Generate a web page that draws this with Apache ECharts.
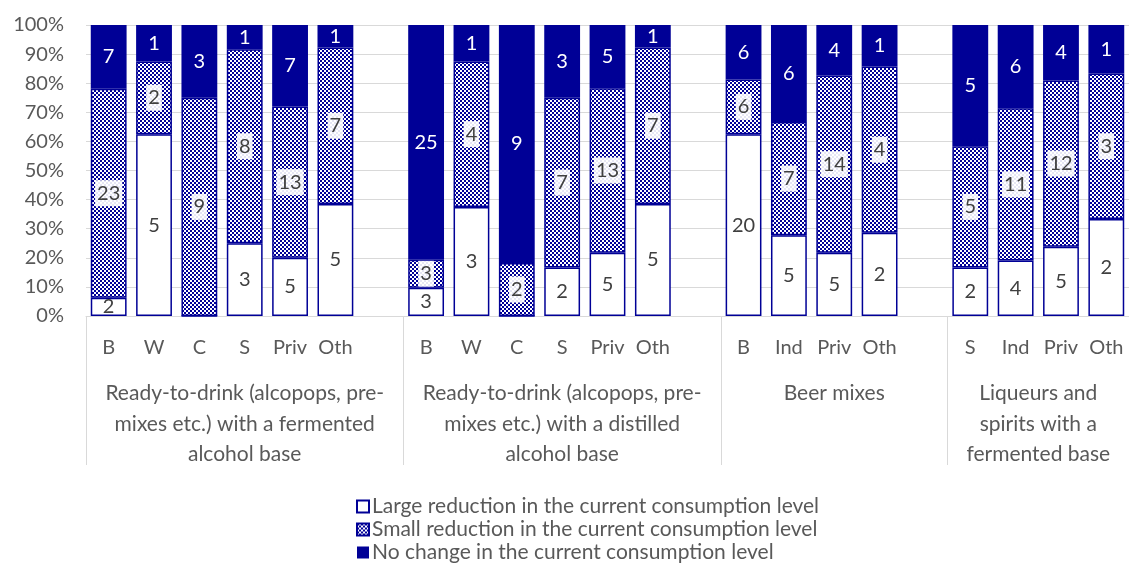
<!DOCTYPE html>
<html>
<head>
<meta charset="utf-8">
<script src="https://cdn.jsdelivr.net/npm/echarts@6/dist/echarts.min.js"></script>
<style>
  html, body { margin: 0; padding: 0; background: #fff; }
  #chart { width: 1129px; height: 566px; }
</style>
</head>
<body>
<div id="chart"></div>
<script>
// Sub-categories (blank slots are the gaps between groups)
const subCats = ['B','W','C','S','Priv','Oth','',
                 'B','W','C','S','Priv','Oth','',
                 'B','Ind','Priv','Oth','',
                 'S','Ind','Priv','Oth'];
// Counts per segment
const largeReduction = [2,5,0,3,5,5,null, 3,3,0,2,5,5,null, 20,5,5,2,null, 2,4,5,2];
const smallReduction = [23,2,9,8,13,7,null, 3,4,2,7,13,7,null, 6,7,14,4,null, 5,11,12,3];
const noChange       = [7,1,3,1,7,1,null, 25,1,9,3,5,1,null, 6,6,4,1,null, 5,6,4,1];
// Groups
const groupNames = [
  'Ready-to-drink (alcopops, pre-\nmixes etc.) with a fermented\nalcohol base',
  'Ready-to-drink (alcopops, pre-\nmixes etc.) with a distilled\nalcohol base',
  'Beer mixes',
  'Liqueurs and\nspirits with a\nfermented base'
];
const groupSlots = [7, 7, 5, 4];
const seriesNames = [
  'Large reduction in the current consumption level',
  'Small reduction in the current consumption level',
  'No change in the current consumption level'
];

const BLUE = '#000096';
const TEXT = '#595959';
const FONT = 'Lato';

function makePattern() {
  const c = document.createElement('canvas');
  c.width = 4; c.height = 4;
  const ctx = c.getContext('2d');
  ctx.fillStyle = '#ffffff';
  ctx.fillRect(0, 0, 4, 4);
  ctx.fillStyle = BLUE;
  for (let x = 0; x < 4; x++) {
    for (let y = 0; y < 4; y++) {
      if (((x >> 1) + (y >> 1)) % 2 === 0) ctx.fillRect(x, y, 1, 1);
    }
  }
  return c;
}
const pattern = { image: makePattern(), repeat: 'repeat' };

const totals = subCats.map((_, i) =>
  (largeReduction[i] || 0) + (smallReduction[i] || 0) + (noChange[i] || 0));

function toData(arr) {
  return arr.map((v, i) => {
    if (v === null) return null;
    const pct = totals[i] ? v / totals[i] * 100 : 0;
    return { value: pct, count: v, label: { show: v > 0 } };
  });
}

const labelBase = {
  show: true,
  position: 'inside',
  fontFamily: FONT,
  fontSize: 20,
  formatter: p => (p.data && p.data.count) ? String(p.data.count) : ''
};

const chart = echarts.init(document.getElementById('chart'), null, { renderer: 'canvas' });

const option = {
  animation: false,
  backgroundColor: '#ffffff',
  textStyle: { fontFamily: FONT },
  grid: { left: 86, right: 0, top: 25, bottom: 250, containLabel: false },
  xAxis: {
    type: 'category',
    data: subCats,
    axisLine: { show: true, lineStyle: { color: '#d9d9d9', width: 1 } },
    axisTick: {
      show: true,
      length: 149,
      interval: (i) => [0, 7, 14, 19].indexOf(i) >= 0,
      lineStyle: { color: '#d9d9d9', width: 1 }
    },
    axisLabel: { color: TEXT, fontSize: 20, fontFamily: FONT, margin: 22, interval: 0 }
  },
  yAxis: {
    type: 'value',
    min: 0, max: 100, interval: 10,
    axisLine: { show: false },
    axisTick: { show: false },
    splitLine: { lineStyle: { color: '#d9d9d9', width: 1 } },
    axisLabel: { color: TEXT, fontSize: 20, fontFamily: FONT, margin: 22, formatter: '{value}%' }
  },
  legend: {
    orient: 'vertical',
    left: 356,
    top: 496,
    height: 120,
    padding: 0,
    itemWidth: 12,
    itemHeight: 12,
    itemGap: 2,
    icon: 'rect',
    textStyle: { color: TEXT, fontSize: 21, lineHeight: 21, fontFamily: FONT, padding: [0,0,0,-2] },
    data: seriesNames
  },
  series: [
    {
      name: seriesNames[0], type: 'bar', stack: 'total', barCategoryGap: '21%',
      itemStyle: { color: '#ffffff', borderColor: BLUE, borderWidth: 1.5 },
      label: Object.assign({}, labelBase, { color: '#404040' }),
      data: toData(largeReduction)
    },
    {
      name: seriesNames[1], type: 'bar', stack: 'total', barCategoryGap: '21%',
      itemStyle: { color: pattern, borderColor: BLUE, borderWidth: 1.5 },
      label: Object.assign({}, labelBase, {
        color: '#404040',
        backgroundColor: 'rgba(255,255,255,0.9)',
        padding: [4, 2, 2, 2]
      }),
      data: toData(smallReduction)
    },
    {
      name: seriesNames[2], type: 'bar', stack: 'total', barCategoryGap: '21%',
      itemStyle: { color: BLUE, borderColor: BLUE, borderWidth: 0 },
      label: Object.assign({}, labelBase, { color: '#ffffff' }),
      data: toData(noChange)
    }
  ]
};
chart.setOption(option);

// Group labels placed through the category axis scale
function addGroupLabels() {
  const x0 = chart.convertToPixel({ xAxisIndex: 0 }, 0);
  const x1 = chart.convertToPixel({ xAxisIndex: 0 }, 1);
  const half = (x1 - x0) / 2;
  const yAxisPx = chart.convertToPixel({ yAxisIndex: 0 }, 0);
  let start = 0;
  const elements = [];
  groupNames.forEach((name, g) => {
    const end = start + groupSlots[g] - 1;
    const left = chart.convertToPixel({ xAxisIndex: 0 }, start) - half;
    const right = chart.convertToPixel({ xAxisIndex: 0 }, end) + half;
    elements.push({
      type: 'text',
      x: (left + right) / 2,
      y: yAxisPx + 62,
      style: {
        text: name,
        align: 'center',
        verticalAlign: 'top',
        fontFamily: FONT,
        fontSize: 21,
        lineHeight: 30.5,
        fill: TEXT
      }
    });
    start = end + 1;
  });
  chart.setOption({ graphic: { elements: elements } });
}
addGroupLabels();
</script>
</body>
</html>
